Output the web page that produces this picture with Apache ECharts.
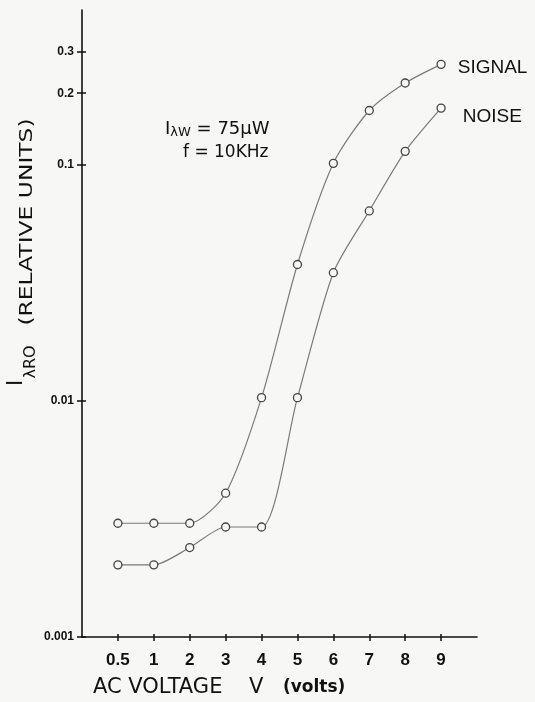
<!DOCTYPE html>
<html>
<head>
<meta charset="utf-8">
<script src="https://cdn.jsdelivr.net/npm/echarts@6/dist/echarts.min.js"></script>
<style>
html,body{margin:0;padding:0;background:#f7f7f5;}
#c{width:535px;height:702px;}
</style>
</head>
<body>
<div id="c"></div>
<script>
// categories (AC voltage, volts); blanks pad the axis ends
const voltages = ['', '0.5', '1', '2', '3', '4', '5', '6', '7', '8', '9', ''];
const signal = [0.00303, 0.00303, 0.00303, 0.00406, 0.0103, 0.0377, 0.101, 0.169, 0.221, 0.265];
const noise  = [0.00202, 0.00202, 0.00239, 0.00292, 0.00292, 0.0103, 0.0348, 0.0635, 0.1135, 0.173];
const yTicks = [0.001, 0.01, 0.1, 0.2, 0.3];

const SANS = '"DejaVu Sans", "Liberation Sans", Arial, sans-serif';

function buildData(arr, name, dist, offset) {
  const d = [null];
  arr.forEach((v, i) => {
    if (i === arr.length - 1) {
      d.push({ value: v, label: { show: true, position: 'right', distance: dist, offset: offset, formatter: name,
        fontFamily: 'Liberation Sans, Arial, sans-serif', fontSize: 19, color: '#111' } });
    } else d.push(v);
  });
  d.push(null);
  return d;
}

const chart = echarts.init(document.getElementById('c'), null, { renderer: 'canvas' });
const lineStyle = { color: '#7a7a7a', width: 1.2 };
const itemStyle = { color: '#f7f7f5', borderColor: '#444', borderWidth: 1.3 };
const tickFilter = (i, v) => v !== '';
chart.setOption({
  backgroundColor: '#f7f7f5',
  animation: false,
  grid: { left: 82, right: 58, top: 10, bottom: 65 },
  xAxis: [{
    type: 'category',
    data: voltages,
    boundaryGap: false,
    axisLine: { lineStyle: { color: '#111', width: 1.6 } },
    axisTick: { show: true, length: 4, inside: false, interval: tickFilter, lineStyle: { color: '#111', width: 1.5 } },
    axisLabel: { interval: tickFilter, margin: 15, fontFamily: 'Liberation Sans, Arial, sans-serif', fontWeight: 'bold', fontSize: 17, color: '#111' },
    splitLine: { show: false }
  }, {
    type: 'category',
    data: voltages,
    boundaryGap: false,
    position: 'bottom',
    axisLine: { show: false },
    axisTick: { show: true, length: 3, inside: true, interval: tickFilter, lineStyle: { color: '#111', width: 1.5 } },
    axisLabel: { show: false },
    splitLine: { show: false }
  }],
  yAxis: [{
    type: 'log',
    logBase: 10,
    min: 0.001,
    max: 0.45,
    axisLine: { show: true, lineStyle: { color: '#111', width: 1.6 } },
    axisTick: { show: true, length: 5, customValues: yTicks, lineStyle: { color: '#111', width: 1.5 } },
    axisLabel: { customValues: yTicks, margin: 8, formatter: v => String(+v.toPrecision(3)),
      fontFamily: 'Liberation Sans Narrow, Liberation Sans, Arial, sans-serif', fontWeight: 'bold', fontSize: 12, color: '#111' },
    splitLine: { show: false },
    minorTick: { show: false }
  }, {
    type: 'log',
    logBase: 10,
    min: 0.001,
    max: 0.45,
    position: 'left',
    axisLine: { show: false },
    axisTick: { show: true, length: 4, inside: true, customValues: yTicks, lineStyle: { color: '#111', width: 1.5 } },
    axisLabel: { show: false },
    splitLine: { show: false },
    minorTick: { show: false }
  }],
  graphic: [
    { type: 'text', x: 17, y: 383, rotation: Math.PI / 2,
      style: { text: 'I', textAlign: 'center', textVerticalAlign: 'middle', fill: '#111', font: '21px ' + SANS } },
    { type: 'text', x: 31, y: 362, rotation: Math.PI / 2,
      style: { text: 'λRO', textAlign: 'center', textVerticalAlign: 'middle', fill: '#111', font: '16px ' + SANS } },
    { type: 'text', x: 27, y: 222, rotation: Math.PI / 2, scaleX: 1.3,
      style: { text: '(RELATIVE UNITS)', textAlign: 'center', textVerticalAlign: 'middle', fill: '#111', font: '18px ' + SANS } },
    { type: 'text', x: 165, y: 129,
      style: { text: '{I|I}{s|λW}{t| = 75μW}', textAlign: 'left', textVerticalAlign: 'middle', fill: '#111',
        rich: {
          I: { fontFamily: SANS, fontSize: 18, lineHeight: 20, fill: '#111' },
          s: { fontFamily: SANS, fontSize: 13, lineHeight: 20, verticalAlign: 'bottom', fill: '#111' },
          t: { fontFamily: SANS, fontSize: 18, lineHeight: 20, fill: '#111' }
        } } },
    { type: 'text', x: 183, y: 153,
      style: { text: 'f = 10KHz', textAlign: 'left', textVerticalAlign: 'middle', fill: '#111', font: '17px ' + SANS } },
    { type: 'text', x: 93, y: 688,
      style: { text: 'AC VOLTAGE', textAlign: 'left', textVerticalAlign: 'middle', fill: '#111', font: '21px ' + SANS } },
    { type: 'text', x: 249, y: 688,
      style: { text: 'V', textAlign: 'left', textVerticalAlign: 'middle', fill: '#111', font: '21px ' + SANS } },
    { type: 'text', x: 283, y: 688,
      style: { text: '(volts)', textAlign: 'left', textVerticalAlign: 'middle', fill: '#111', font: 'bold 17px ' + SANS } }
  ],
  series: [
    { name: 'SIGNAL', type: 'line', data: buildData(signal, 'SIGNAL', 12, [0, 3]), smooth: 0.25, connectNulls: false,
      symbol: 'circle', symbolSize: 8, lineStyle, itemStyle },
    { name: 'NOISE', type: 'line', data: buildData(noise, 'NOISE', 17, [0, 9]), smooth: 0.25, connectNulls: false,
      symbol: 'circle', symbolSize: 8, lineStyle, itemStyle }
  ]
});
</script>
</body>
</html>
